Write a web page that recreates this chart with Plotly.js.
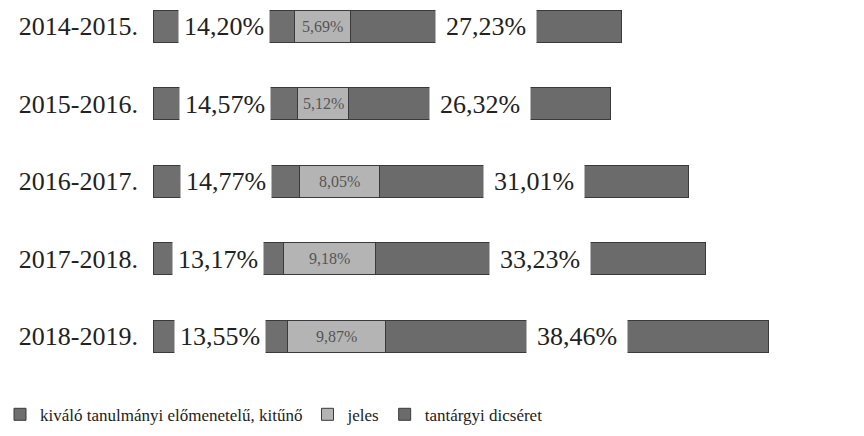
<!DOCTYPE html>
<html>
<head>
<meta charset="utf-8">
<script src="https://cdn.plot.ly/plotly-3.0.1.min.js"></script>
<style>html,body{margin:0;padding:0;background:#fff;}#chart{width:864px;height:436px;}</style>
</head>
<body>
<div id="chart"></div>
<script>
const years = ["2014-2015.", "2015-2016.", "2016-2017.", "2017-2018.", "2018-2019."];
const kivalo = [14.20, 14.57, 14.77, 13.17, 13.55];
const jeles = [5.69, 5.12, 8.05, 9.18, 9.87];
const dicseret = [27.23, 26.32, 31.01, 33.23, 38.46];
const seriesNames = ["kiváló tanulmányi előmenetelű, kitűnő", "jeles", "tantárgyi dicséret"];

const fmt = v => v.toFixed(2).replace('.', ',') + '%';
const serif = "Liberation Serif, Times New Roman, serif";

const traces = [
  {name: seriesNames[0], x: kivalo, y: years, type: 'bar', orientation: 'h',
   marker: {color: '#6f6f6f', line: {color: '#3a3a3a', width: 1}}, hoverinfo: 'x+y'},
  {name: seriesNames[1], x: jeles, y: years, type: 'bar', orientation: 'h',
   marker: {color: '#b4b4b4', line: {color: '#3a3a3a', width: 1}}, hoverinfo: 'x+y'},
  {name: seriesNames[2], x: dicseret, y: years, type: 'bar', orientation: 'h',
   marker: {color: '#6b6b6b', line: {color: '#3a3a3a', width: 1}}, hoverinfo: 'x+y'}
];

const annotations = [];
years.forEach((yr, i) => {
  const a = kivalo[i], b = jeles[i], c = dicseret[i];
  annotations.push({x: a / 2, y: yr, xref: 'x', yref: 'y', text: fmt(a), showarrow: false,
    bgcolor: '#ffffff', width: 88, height: 34, font: {family: serif, size: 26, color: '#222'}});
  annotations.push({x: a + b / 2, y: yr, xref: 'x', yref: 'y', text: fmt(b), showarrow: false,
    font: {family: serif, size: 16, color: '#555'}});
  annotations.push({x: a + b + c / 2, y: yr, xref: 'x', yref: 'y', text: fmt(c), showarrow: false,
    bgcolor: '#ffffff', width: 98, height: 34, font: {family: serif, size: 26, color: '#222'}});
});

const layout = {
  width: 864, height: 436,
  margin: {l: 153, r: 5, t: 3, b: 61},
  paper_bgcolor: '#ffffff', plot_bgcolor: '#ffffff',
  barmode: 'stack', bargap: 0.59,
  showlegend: true,
  legend: {orientation: 'h', xref: 'container', yref: 'container', x: 0.0, y: 0.09,
           xanchor: 'left', yanchor: 'top', font: {family: serif, size: 17, color: '#222'},
           traceorder: 'normal'},
  xaxis: {range: [0, 71], showticklabels: false, showgrid: false, zeroline: false, showline: false},
  yaxis: {type: 'category', range: [4.5, -0.3], showgrid: false, zeroline: false, showline: false,
          ticks: '', ticklabelstandoff: 14, tickfont: {family: serif, size: 26, color: '#222'}},
  annotations: annotations
};

Plotly.newPlot('chart', traces, layout, {displayModeBar: false, staticPlot: true});
</script>
</body>
</html>
